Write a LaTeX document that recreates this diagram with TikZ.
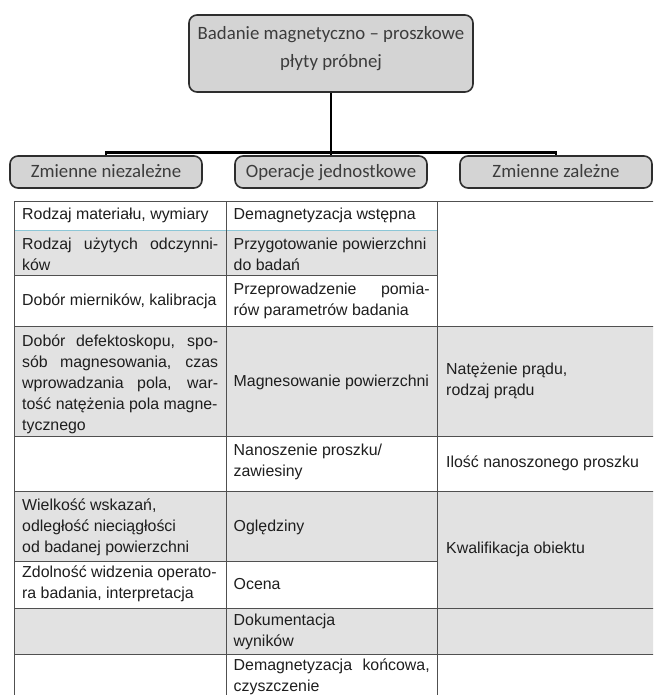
\documentclass[tikz,border=0pt]{standalone}
\usepackage{fontspec}
\setmainfont{Liberation Sans}
\newfontfamily\boxfont{Carlito}
\definecolor{boxfill}{HTML}{D4D4D4}
\definecolor{boxline}{HTML}{2E2E2E}
\definecolor{boxtext}{HTML}{3C3C3C}
\definecolor{cellgray}{HTML}{E2E2E2}
\definecolor{gridline}{HTML}{505050}
\definecolor{blueline}{HTML}{8CC6D6}
\definecolor{celltext}{HTML}{1E1E1E}
\newcommand{\jl}[1]{\makebox[196pt][s]{#1}}
\tikzset{
  headbox/.style={draw=boxline, line width=1.6pt, fill=boxfill, rounded corners=8pt, inner sep=0pt},
  headtext/.style={font=\boxfont\fontsize{18.8}{28}\selectfont, text=boxtext, align=center, inner sep=0pt},
  link/.style={line width=2.6pt, black},
  gridl/.style={gridline, line width=1pt},
  cellfill/.style={fill=cellgray},
  celltxt/.style={anchor=west, inner sep=0pt, align=left, font=\fontsize{15.9}{21}\selectfont, text=celltext},
}
\begin{document}
\begin{tikzpicture}[x=1pt,y=-1pt]
\useasboundingbox (0,0) rectangle (653,695);
\clip (0,0) rectangle (653,695);
\fill[white] (0,0) rectangle (653,695);

% ---- header boxes
\node[headbox, minimum width=284pt, minimum height=77pt] (root) at (331,53.5) {};
\node[headtext] (roottxt) at (331,49) {Badanie magnetyczno – proszkowe\\płyty próbnej};
\node[headbox, minimum width=192pt, minimum height=32pt] (ind) at (106,172) {};
\node[headtext, anchor=base] (indtxt) at (106,178) {Zmienne niezależne};
\node[headbox, minimum width=192pt, minimum height=32pt] (ops) at (331,172) {};
\node[headtext, anchor=base] (opstxt) at (331,178) {Operacje jednostkowe};
\node[headbox, minimum width=192pt, minimum height=32pt] (dep) at (556,172) {};
\node[headtext, anchor=base] (deptxt) at (556,178) {Zmienne zależne};

\coordinate (bar) at (331,152.5);
\draw[link] (root.south) -- (ops.north);
\draw[link] (ind.north) -- (ind.north |- bar) -- (dep.north |- bar) -- (dep.north);

% ---- table fills
\def\Xa{14}\def\Xb{226}\def\Xc{437}\def\Xd{660}
\def\Ya{201}\def\Yb{230}\def\Yc{275.5}\def\Yd{326}\def\Ye{436}
\def\Yf{491}\def\Yg{561}\def\Yh{608}\def\Yi{654}\def\Yj{706}
\fill[cellfill] (\Xa,\Yb) rectangle (\Xc,\Yc);
\fill[cellfill] (\Xa,\Yd) rectangle (\Xd,\Ye);
\fill[cellfill] (\Xa,\Yf) rectangle (\Xc,\Yg);
\fill[cellfill] (\Xc,\Yf) rectangle (\Xd,\Yh);
\fill[cellfill] (\Xa,\Yh) rectangle (\Xd,\Yi);

% ---- table lines
\draw[gridl] (\Xa,\Ya) -- (\Xd,\Ya);
\draw[blueline, line width=1pt] (\Xa,\Yb) -- (\Xc,\Yb);
\draw[gridl] (\Xa,\Yc) -- (\Xc,\Yc);
\draw[gridl] (\Xa,\Yd) -- (\Xd,\Yd);
\draw[gridl] (\Xa,\Ye) -- (\Xd,\Ye);
\draw[gridl] (\Xa,\Yf) -- (\Xd,\Yf);
\draw[gridl] (\Xa,\Yg) -- (\Xc,\Yg);
\draw[gridl] (\Xa,\Yh) -- (\Xd,\Yh);
\draw[gridl] (\Xa,\Yi) -- (\Xd,\Yi);
\draw[gridl] (\Xa,\Ya) -- (\Xa,\Yj);
\draw[gridl] (\Xb,\Ya) -- (\Xb,\Yj);
\draw[gridl] (\Xc,\Ya) -- (\Xc,\Yj);

% ---- table texts
\def\Ca{22}\def\Cb{233.5}\def\Cc{446}
\node[celltxt] (r1a) at (\Ca,215.5) {Rodzaj materiału, wymiary};
\node[celltxt] (r1b) at (\Cb,215.5) {Demagnetyzacja wstępna};
\node[celltxt] (r2a) at (\Ca,254) {\jl{Rodzaj użytych odczynni-}\\ków};
\node[celltxt] (r2b) at (\Cb,254) {Przygotowanie powierzchni\\do badań};
\node[celltxt] (r3a) at (\Ca,301) {Dobór mierników, kalibracja};
\node[celltxt] (r3b) at (\Cb,301) {\jl{Przeprowadzenie pomia-}\\rów parametrów badania};
\node[celltxt] (r4a) at (\Ca,384) {\jl{Dobór defektoskopu, spo-}\\\jl{sób magnesowania, czas}\\\jl{wprowadzania pola, war-}\\tość natężenia pola magne-\\tycznego};
\node[celltxt] (r4b) at (\Cb,382) {Magnesowanie powierzchni};
\node[celltxt] (r4c) at (\Cc,381) {Natężenie prądu,\\rodzaj prądu};
\node[celltxt] (r5b) at (\Cb,462) {Nanoszenie proszku/\\zawiesiny};
\node[celltxt] (r5c) at (\Cc,463) {Ilość nanoszonego proszku};
\node[celltxt] (r6a) at (\Ca,527) {Wielkość wskazań,\\odległość nieciągłości\\od badanej powierzchni};
\node[celltxt] (r6b) at (\Cb,527) {Oględziny};
\node[celltxt] (r6c) at (\Cc,549) {Kwalifikacja obiektu};
\node[celltxt] (r7a) at (\Ca,584) {Zdolność widzenia operato-\\ra badania, interpretacja};
\node[celltxt] (r7b) at (\Cb,584) {Ocena};
\node[celltxt] (r8b) at (\Cb,632) {Dokumentacja\\wyników};
\node[celltxt] (r9b) at (\Cb,677) {\jl{Demagnetyzacja końcowa,}\\czyszczenie};
\end{tikzpicture}
\end{document}
